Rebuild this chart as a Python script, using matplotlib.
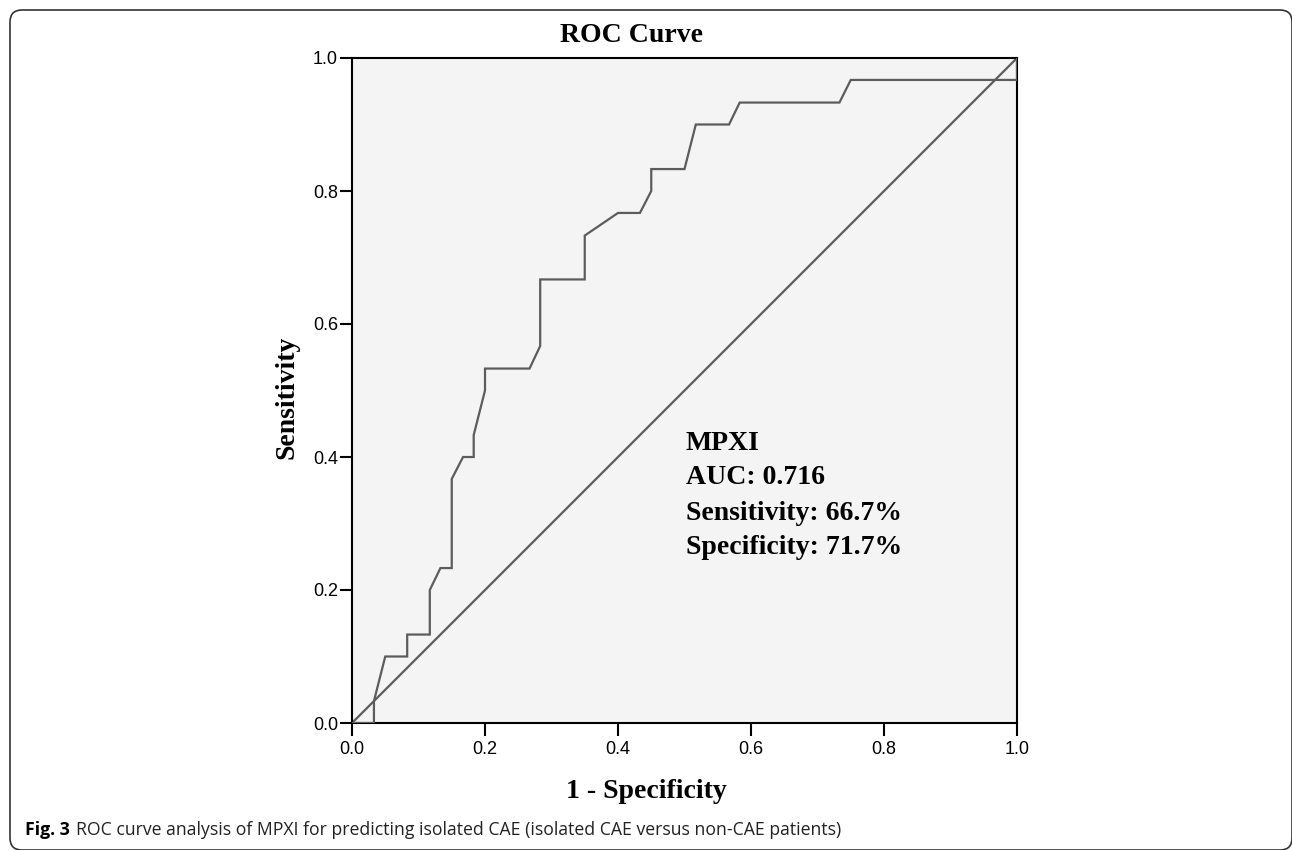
import matplotlib
matplotlib.use("Agg")
import matplotlib.pyplot as plt
from matplotlib.patches import FancyBboxPatch
from matplotlib.transforms import IdentityTransform

# ---- data ----
fpr = [0, 0.033, 0.033, 0.05, 0.083, 0.083, 0.117, 0.117, 0.133, 0.15, 0.15,
       0.167, 0.183, 0.183, 0.2, 0.2, 0.267, 0.283, 0.283, 0.35, 0.35, 0.4,
       0.433, 0.45, 0.45, 0.5, 0.517, 0.567, 0.583, 0.733, 0.75, 1.0, 1.0]
tpr = [0, 0, 0.033, 0.1, 0.1, 0.133, 0.133, 0.2, 0.233, 0.233, 0.367, 0.4,
       0.4, 0.433, 0.5, 0.533, 0.533, 0.567, 0.667, 0.667, 0.733, 0.767,
       0.767, 0.8, 0.833, 0.833, 0.9, 0.9, 0.933, 0.933, 0.967, 0.967, 1.0]
ref_x = [0, 1]
ref_y = [0, 1]
ticks = [0.0, 0.2, 0.4, 0.6, 0.8, 1.0]
tick_labels = ["0.0", "0.2", "0.4", "0.6", "0.8", "1.0"]
title = "ROC Curve"
xlabel = "1 - Specificity"
ylabel = "Sensitivity"
annot_lines = ["MPXI", "AUC: 0.716", "Sensitivity: 66.7%", "Specificity: 71.7%"]
caption_bold = "Fig. 3"
caption_rest = "ROC curve analysis of MPXI for predicting isolated CAE (isolated CAE versus non-CAE patients)"

W, H = 1292, 850
fig = plt.figure(figsize=(W / 100, H / 100), dpi=100)
fig.patch.set_facecolor("white")

# axes box (pixels): left 352, right 1017, top 58, bottom 723
ax = fig.add_axes([352 / W, 1 - 723 / H, 665 / W, 665 / H])
ax.set_facecolor("#f4f4f4")
ax.plot(fpr, tpr, color="#5c5c5c", lw=1.6, solid_joinstyle="miter", zorder=3)
ax.plot(ref_x, ref_y, color="#5c5c5c", lw=1.6, zorder=2)
ax.set_xlim(0, 1)
ax.set_ylim(0, 1)
ax.set_xticks(ticks)
ax.set_yticks(ticks)
ax.set_xticklabels(tick_labels, fontfamily="Liberation Sans", fontsize=13)
ax.set_yticklabels(tick_labels, fontfamily="Liberation Sans", fontsize=13)
ax.tick_params(axis="both", direction="out", length=9, width=1.5, color="black")
ax.tick_params(axis="x", pad=4)
ax.tick_params(axis="y", pad=1)
for s in ax.spines.values():
    s.set_linewidth(1.5)
    s.set_color("black")

serif = "Liberation Serif"
fig.text(632 / W, 1 - 35 / H, title, ha="center", va="center",
         fontfamily=serif, fontweight="bold", fontsize=20)
fig.text(646 / W, 1 - 792 / H, xlabel, ha="center", va="center",
         fontfamily=serif, fontweight="bold", fontsize=20)
fig.text(287 / W, 1 - 397 / H, ylabel, ha="center", va="center", rotation=90,
         fontfamily=serif, fontweight="bold", fontsize=20)

line_y = [444, 478, 513, 547]
for txt, yy in zip(annot_lines, line_y):
    fig.text(686 / W, 1 - yy / H, txt, ha="left", va="center",
             fontfamily=serif, fontweight="bold", fontsize=20)

# caption
t1 = fig.text(25 / W, 1 - 835 / H, caption_bold, ha="left", va="baseline",
              fontfamily="Open Sans", fontweight="bold", fontsize=12.7)
fig.canvas.draw()
bb = t1.get_window_extent()
fig.text((bb.x1 + 6) / W, 1 - 835 / H, caption_rest, ha="left", va="baseline",
         fontfamily="Open Sans", fontsize=12.7, color="#222222")

# rounded frame around figure (pixel coordinates, origin bottom-left);
# right and bottom edges sit on the image border as in the reference
frame = FancyBboxPatch((10, 0), 1282, 840, boxstyle="round,pad=0,rounding_size=12",
                       transform=IdentityTransform(), fill=False,
                       edgecolor="#333333", lw=1.2)
fig.patches.append(frame)

fig.savefig("out.png", dpi=100)
